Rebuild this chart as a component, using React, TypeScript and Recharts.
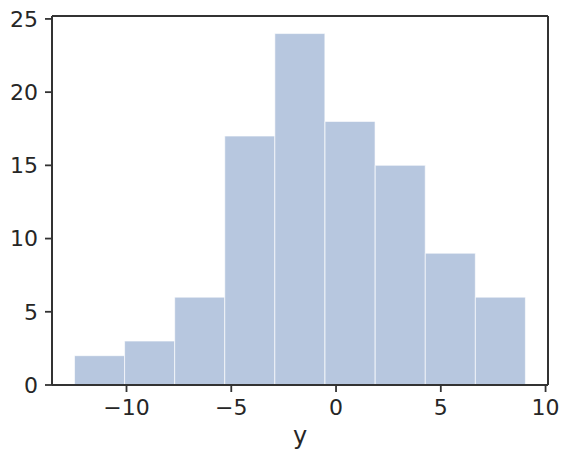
import {ComposedChart, Bar, XAxis, YAxis, ReferenceLine} from 'recharts';

// histogram of y
const binEdges = [-12.48, -10.09, -7.70, -5.31, -2.92, -0.53, 1.87, 4.26, 6.65, 9.04];
const counts = [2, 3, 6, 17, 24, 18, 15, 9, 6];
const xTicks = [-10, -5, 0, 5, 10];
const yTicks = [0, 5, 10, 15, 20, 25];
const xDomain = [-13.556, 10.116];
const yDomain = [0, 25.2];

const data = counts.map((count, i) => ({
    mid: (binEdges[i] + binEdges[i + 1]) / 2,
    count,
}));

const ink = '#262626';
const spine = '#333333';
const font = 'DejaVu Sans, sans-serif';
const minus = (v: number) => String(v).replace('-', '\u2212');

export default function App() {
    return (
        <div style={{position: 'absolute', left: 0, top: 0, background: '#fff'}}>
            <ComposedChart
                width={570}
                height={461}
                data={data}
                margin={{top: 16, right: 22, left: 0, bottom: 0}}
                barCategoryGap={0}
                barGap={0}
            >
                <XAxis
                    dataKey="mid"
                    type="number"
                    domain={xDomain}
                    ticks={xTicks}
                    allowDataOverflow
                    height={76}
                    tickFormatter={minus}
                    tickSize={7}
                    tickMargin={7}
                    tick={{fill: ink, fontSize: 22, fontFamily: font}}
                    tickLine={{stroke: spine, strokeWidth: 1.8}}
                    axisLine={{stroke: spine, strokeWidth: 2}}
                    label={{value: 'y', position: 'insideBottom', offset: 17, fill: ink, fontSize: 24, fontFamily: font}}
                />
                <YAxis
                    type="number"
                    domain={yDomain}
                    ticks={yTicks}
                    allowDataOverflow
                    width={52}
                    tickSize={7}
                    tickMargin={7}
                    tick={{fill: ink, fontSize: 22, fontFamily: font}}
                    tickLine={{stroke: spine, strokeWidth: 1.8}}
                    axisLine={{stroke: spine, strokeWidth: 2}}
                />
                <Bar
                    dataKey="count"
                    fill="#b7c7df"
                    stroke="#ffffff"
                    strokeOpacity={0.6}
                    strokeWidth={1}
                    isAnimationActive={false}
                />
                <ReferenceLine y={yDomain[1]} stroke={spine} strokeWidth={2}/>
                <ReferenceLine x={xDomain[1]} stroke={spine} strokeWidth={2}/>
            </ComposedChart>
        </div>
    );
}
